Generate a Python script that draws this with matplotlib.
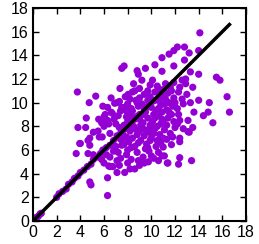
import numpy as np
import matplotlib
matplotlib.use('Agg')
import matplotlib.pyplot as plt

# points (x = first value, y = second)
diag_pts = [(0.1,0.1),(0.2,0.25),(0.3,0.3),(0.45,0.4),(0.6,0.6),(0.7,0.65),(2.0,2.0),(2.2,2.3),
            (2.5,2.5),(2.8,2.7),(3.0,3.1),(3.3,3.3),(3.5,3.6),(3.8,3.8),(4.0,4.1),(4.3,4.3),
            (4.6,4.6),(4.9,4.8),(5.1,5.2),(5.4,5.4),(5.7,5.7),(5.9,6.0),(6.2,6.2),(6.5,6.4),
            (6.8,6.8),(7.1,7.2),(7.4,7.4),(7.8,7.8),(8.2,8.1),(8.6,8.6),(9.0,9.0),(9.4,9.4),
            (9.8,9.9),(10.3,10.2),(11.0,11.1),(11.5,11.4)]
upper_pts = [(3.75,10.9),(5.3,10.55),(4.75,10.0),(4.5,8.7),(4.45,7.9),(5.55,8.6),(5.8,8.3),(5.5,7.6),
             (5.1,7.5),(4.8,7.0),(4.65,6.8),(3.95,6.55),(4.8,6.4),(5.85,7.1),(3.8,7.9),(4.0,6.55),
             (5.6,7.1),(6.3,9.6),(6.9,9.95),(7.35,11.2),(7.3,10.1),(7.5,12.9),(7.7,13.1),(8.05,10.7),
             (6.7,9.1),(7.5,9.6),(7.7,9.6),(6.85,8.6),(7.9,8.8),(8.8,12.7),(9.5,12.9),(10.3,13.2),
             (10.9,13.8),(11.5,14.1),(11.9,14.4),(10.9,12.65),(8.9,12.4),(14.1,15.9),(12.2,14.7),
             (12.8,14.7),(13.2,14.2),(14.0,14.4),(12.8,13.6),(11.9,13.1),(13.3,12.6),(14.0,12.4),
             (12.9,12.0),(9.0,11.2),(9.7,11.0),(10.5,11.4),(11.2,11.6),(11.6,11.3),(9.2,11.9),
             (10.1,11.9),(7.1,10.0),(8.0,9.9),(8.7,10.2),(9.7,10.2),(10.65,10.3),(6.6,9.2),(7.4,9.3),
             (6.0,8.0),(6.3,8.5),(6.5,7.4),(8.3,9.5),(8.5,11.6),(6.1,9.0),(6.4,8.2),(5.9,9.7),
             (7.0,8.2),(7.2,8.9),(7.9,9.3),(8.2,10.3),(6.6,10.4),(7.8,10.5),(8.4,10.9),(6.0,8.8)]
lower_pts = [(15.5,12.15),(15.8,11.9),(16.4,10.5),(16.6,9.2),(14.9,10.0),(14.0,10.2),(15.2,8.3),
             (14.4,8.9),(14.8,9.2),(13.5,7.9),(13.1,7.55),(12.4,7.0),(12.4,6.7),(13.1,8.5),(12.4,8.5),
             (13.6,9.2),(13.3,10.0),(12.6,11.9),(13.4,5.1),(12.4,5.35),(12.3,4.8),(11.4,4.9),
             (10.9,5.5),(9.75,5.0),(9.0,4.7),(8.6,4.4),(8.2,4.4),(11.7,6.45),(11.0,6.25),(12.7,7.8),
             (13.2,7.5),(6.3,2.15),(6.3,3.65),(7.1,4.1),(7.75,4.1),(6.4,4.65),(6.75,4.6),(11.35,4.9),
             (11.1,5.5),(4.9,3.05),(3.65,5.7),(4.65,5.7),(5.1,5.6),(4.8,3.3),(6.5,5.4),(6.5,4.6),
             (7.1,5.1),(6.2,5.6),(6.8,5.9),(7.0,6.3),(5.8,5.2),(6.0,4.9),(7.3,4.7),(8.0,4.9),
             (8.9,5.1),(9.4,4.9),(10.0,5.5),(10.6,5.1),(6.9,6.1),(7.4,6.9),(7.9,7.1)]
center_pts = [(7.4,5.3),(7.9,5.6),(8.3,5.2),(8.8,5.8),(9.3,5.4),(9.8,5.9),(10.2,5.3),(10.6,5.8),
              (8.0,6.0),(7.2,5.8),(9.5,6.1),(10.4,6.3),(7.5,6.4),(8.1,6.7),(8.6,6.3),(9.1,6.8),
              (9.6,6.5),(10.0,7.0),(10.8,6.6),(11.3,6.9),(8.4,7.0),(7.8,6.9),(9.4,7.2),(11.8,7.1),
              (7.6,7.3),(8.2,7.6),(8.8,7.3),(9.2,7.9),(9.8,7.5),(10.3,7.8),(10.7,7.3),(11.1,7.7),
              (11.6,7.4),(12.0,7.9),(8.5,8.0),(9.5,7.7),(10.5,8.0),(8.0,8.4),(8.7,8.8),(9.3,8.3),
              (9.7,8.7),(10.1,8.4),(10.6,8.9),(11.0,8.3),(11.4,8.7),(11.9,8.4),(12.3,9.0),(9.0,8.6),
              (10.3,8.7),(10.9,8.6),(11.7,9.0),(8.4,9.3),(8.9,9.7),(9.5,9.2),(10.0,9.6),(10.4,9.3),
              (10.8,9.8),(11.3,9.4),(11.8,9.7),(12.2,9.5),(12.7,9.9),(9.2,9.9),(10.6,9.5),(11.1,9.9),
              (9.0,10.4),(9.4,10.7),(9.9,10.5),(10.3,10.9),(10.9,10.6),(11.4,10.8),(11.9,10.4),
              (12.3,10.9),(12.6,10.3),(13.0,10.7),(10.1,10.1),(11.7,11.0),(10.7,11.1),(11.9,11.7),
              (12.4,11.3),(12.9,11.6),(13.5,11.3),(9.9,11.5),(8.6,11.0),
              (8.3,6.2),(8.9,6.6),(9.9,6.8),(10.2,7.4),(9.0,7.6),(8.6,7.8),(9.9,8.1),(10.8,8.2),
              (11.3,8.1),(9.3,9.0),(10.2,9.0),(11.5,9.2),(10.6,10.2),(11.2,10.3),(8.8,10.0),
              (9.6,9.6),(10.9,9.2),(12.0,10.0),(8.2,8.9),(7.7,8.1),(7.3,7.9),(8.4,8.5),
              (9.1,8.1),(10.0,7.9),(11.0,7.0),(10.5,6.8),(9.7,6.2),(7.7,6.5),(12.2,8.2),(11.5,10.0)]

pts = np.array(diag_pts + upper_pts + lower_pts + center_pts)
line_x = [0, 16.6]
line_y = [0, 16.6]
ticks = np.arange(0, 19, 2)

plt.rcParams['font.family'] = ['Liberation Sans', 'DejaVu Sans']
fig = plt.figure(figsize=(2.59, 2.44), dpi=100)
ax = fig.add_axes([0.1274, 0.0943, 0.8224, 0.8730])
ax.scatter(pts[:, 0], pts[:, 1], s=27, color='#9400d3', edgecolors='none', zorder=2)
ax.plot(line_x, line_y, color='black', lw=2.5, zorder=3)

ax.set_xlim(0, 18); ax.set_ylim(0, 18)
ax.set_xticks(ticks); ax.set_yticks(ticks)
ax.tick_params(direction='in', top=True, right=True, length=4, width=1,
               labelsize=11.5, pad=3, colors='black')
for sp in ax.spines.values():
    sp.set_linewidth(1.5)

fig.savefig('out.png', dpi=100)
